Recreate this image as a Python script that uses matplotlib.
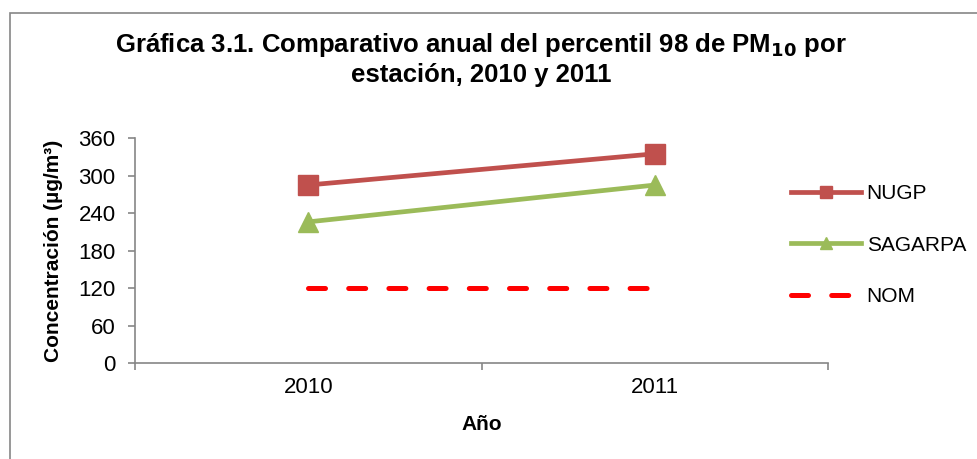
import matplotlib.pyplot as plt
from matplotlib.patches import Rectangle

plt.rcParams['font.family'] = ['Liberation Sans', 'DejaVu Sans']

# data
years = ['2010', '2011']
nugp = [285, 335]
sagarpa = [226, 285]
nom = [120, 120]

fig = plt.figure(figsize=(9.78, 4.59), dpi=100)
ax = fig.add_axes([0.138, 0.209, 0.709, 0.490])

x = [0.5, 1.5]
ax.plot(x, nugp, color='#C0504D', lw=3.4, marker='s', markersize=14, label='NUGP')
ax.plot(x, sagarpa, color='#9BBB59', lw=3.4, marker='^', markersize=15, label='SAGARPA')
ax.plot(x, nom, color='#FF0000', lw=3.6, linestyle=(0, (3.4, 4.64)),
        dash_capstyle='round', label='NOM')

ax.set_xlim(0, 2)
ax.set_ylim(0, 360)
ax.set_yticks(range(0, 361, 60))
ax.set_xticks([0, 1, 2])
ax.set_xticklabels([])
ax.set_xticks(x, minor=True)
ax.set_xticklabels(years, minor=True)
ax.tick_params(axis='x', which='minor', length=0, pad=10, labelsize=16)
ax.tick_params(axis='x', which='major', length=5, color='#868686', width=1.2)
ax.tick_params(axis='y', length=5, color='#868686', width=1.2, labelsize=16, pad=9)

for s in ['top', 'right']:
    ax.spines[s].set_visible(False)
for s in ['left', 'bottom']:
    ax.spines[s].set_color('#868686')
    ax.spines[s].set_linewidth(1.2)

ax.set_ylabel('Concentración (µg/m³)', fontsize=15, fontweight='bold', labelpad=11)
ax.set_xlabel('Año', fontsize=15, fontweight='bold', labelpad=12)

fig.text(0.492, 0.902, 'Gráfica 3.1. Comparativo anual del percentil 98 de PM$_{\\mathbf{10}}$ por',
         ha='center', va='center', fontsize=18.5, fontweight='bold')
fig.text(0.492, 0.837, 'estación, 2010 y 2011', ha='center', va='center',
         fontsize=18.5, fontweight='bold')

ax.legend(loc='center left', bbox_to_anchor=(0.79, 0.466), bbox_transform=fig.transFigure,
          frameon=False, fontsize=15, handlelength=3.36, labelspacing=1.55, handletextpad=0.25,
          markerscale=0.6)

fig.patches.append(Rectangle((10 / 978, -0.1), 1.2, 1 - 13 / 459 + 0.1, transform=fig.transFigure,
                             fill=False, edgecolor='#868686', lw=1.2))

fig.savefig('out.png', dpi=100)
